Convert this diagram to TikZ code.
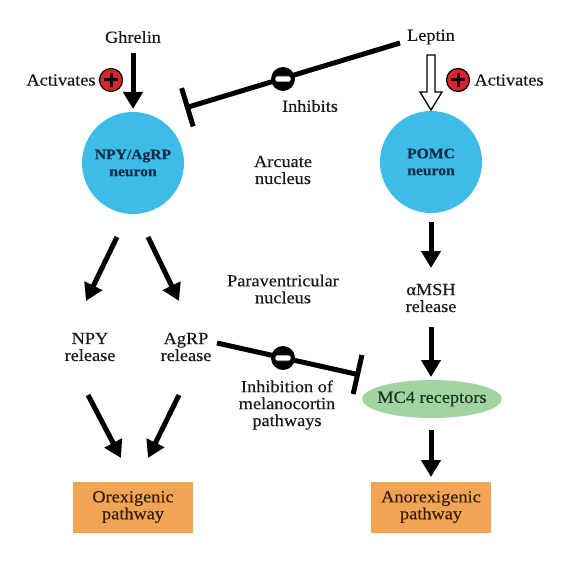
\documentclass[tikz,border=0pt]{standalone}
\usepackage{fontspec}
\setmainfont{Liberation Serif}[FakeStretch=1.08, FakeBold=0.4]
\usetikzlibrary{arrows.meta,shapes.geometric,calc}
\definecolor{neuroncol}{RGB}{62,188,232}
\definecolor{neurontxt}{RGB}{20,45,70}
\definecolor{boxcol}{RGB}{241,165,84}
\definecolor{boxtxt}{RGB}{55,30,15}
\definecolor{mccol}{RGB}{162,211,162}
\definecolor{mctxt}{RGB}{25,55,30}
\definecolor{redsign}{RGB}{215,38,42}
\begin{document}
\begin{tikzpicture}[x=1bp,y=-1bp,
  txt/.style={font=\fontsize{17}{17}\selectfont, align=center, inner sep=0pt, text=black!90},
  neuron/.style={circle, fill=neuroncol, minimum size=102bp, inner sep=0pt, align=center,
     font=\fontsize{14.5}{17}\selectfont\bfseries, text=neurontxt},
  pathbox/.style={rectangle, fill=boxcol, minimum width=120bp, minimum height=51bp, inner sep=0pt,
     align=center, font=\fontsize{17}{17}\selectfont, text=boxtxt},
  mcell/.style={ellipse, fill=mccol, minimum width=140bp, minimum height=38bp,
     inner xsep=-14bp, inner ysep=0pt,
     font=\fontsize{17}{17}\selectfont, text=mctxt},
  plussign/.style={circle, fill=redsign, draw=black, line width=1.2bp, minimum size=23bp, inner sep=0pt},
  minussign/.style={circle, fill=black, minimum size=24bp, inner sep=0pt},
  arr/.style={line width=5bp, -{Triangle[width=19bp,length=17bp]}},
  inhib/.style={line width=5bp, -{Bar[width=40bp]}}
]
\useasboundingbox (0,0) rectangle (567,567);

% text nodes
\node[txt] (ghrelin) at (133,37) {Ghrelin};
\node[txt] (leptin) at (431,37) {Leptin};
\node[txt] (act1) at (61,80) {Activates};
\node[txt] (act2) at (509,80) {Activates};
\node[txt] (inh) at (310,106) {Inhibits};
\node[txt] (arc) at (283,170) {Arcuate\\nucleus};
\node[txt] (pvn) at (283,289) {Paraventricular\\nucleus};
\node[txt] (npyr) at (90,347) {NPY\\release};
\node[txt] (agrpr) at (186,347) {AgRP\\release};
\node[txt] (msh) at (431,298) {αMSH\\release};
\node[txt] (inhm) at (287,405) {Inhibition of\\melanocortin\\pathways};

% main shapes
\node[neuron] (npy) at (133,163) {NPY/AgRP\\neuron};
\node[neuron] (pomc) at (431,162) {POMC\\neuron};
\node[mcell] (mc4) at (432,399) {MC4 receptors};
\node[pathbox] (orex) at (133,507) {Orexigenic\\pathway};
\node[pathbox] (anor) at (431,507) {Anorexigenic\\pathway};

% arrow end coordinates
\coordinate (g0) at (133,53);   \coordinate (g1) at (133,109);
\coordinate (n0) at (117,237);  \coordinate (n1) at (86,301);
\coordinate (r0) at (148,237);  \coordinate (r1) at (179,301);
\coordinate (o0) at (88,395);   \coordinate (o1) at (121,458);
\coordinate (q0) at (179,395);  \coordinate (q1) at (148,458);
\coordinate (p0) at (431,222);  \coordinate (p1) at (431,268);
\coordinate (s0) at (431,327);  \coordinate (s1) at (431,377);
\coordinate (c0) at (431,430);  \coordinate (c1) at (431,477);
\coordinate (l0) at (400,43);   \coordinate (l1) at (185,108);
\coordinate (a0) at (217,343);  \coordinate (a1) at (360,375);

% activating arrows
\draw[arr] (g0) -- (g1);
\draw[arr] (n0) -- (n1);
\draw[arr] (r0) -- (r1);
\draw[arr] (o0) -- (o1);
\draw[arr] (q0) -- (q1);
\draw[arr] (p0) -- (p1);
\draw[arr] (s0) -- (s1);
\draw[arr] (c0) -- (c1);

% hollow leptin arrow
\draw[line width=1.3bp, fill=white, line join=miter]
  (427,55) -- (427,92) -- (420,92) -- (431,110) -- (442,92) -- (435,92) -- (435,55) -- cycle;

% inhibition lines
\draw[inhib] (l0) -- (l1);
\draw[inhib] (a0) -- (a1);

% signs
\node[plussign] (p1s) at (111,80) {};
\draw[line width=3bp] ($(p1s)+(-7,0)$) -- ($(p1s)+(7,0)$) ($(p1s)+(0,-7)$) -- ($(p1s)+(0,7)$);
\node[plussign] (p2s) at (458,80) {};
\draw[line width=3bp] ($(p2s)+(-7,0)$) -- ($(p2s)+(7,0)$) ($(p2s)+(0,-7)$) -- ($(p2s)+(0,7)$);
\node[minussign] (m1) at (283,79) {};
\draw[fill=white, draw=black, line width=0.8bp, rounded corners=2bp] ($(m1)+(-8,-3)$) rectangle ($(m1)+(8,3)$);
\node[minussign] (m2) at (283,358) {};
\draw[fill=white, draw=black, line width=0.8bp, rounded corners=2bp] ($(m2)+(-8,-3)$) rectangle ($(m2)+(8,3)$);
\end{tikzpicture}
\end{document}
